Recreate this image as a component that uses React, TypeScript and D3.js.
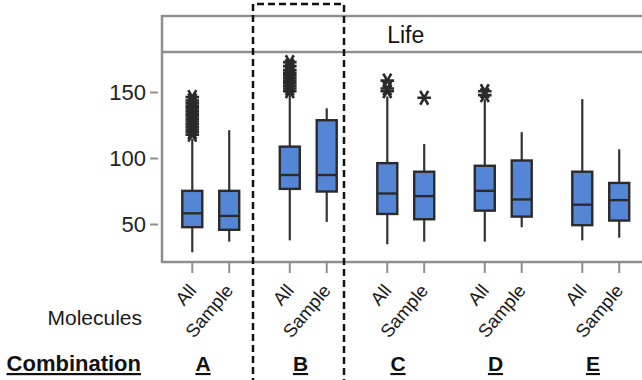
import React, { useEffect, useRef } from 'react';
import * as d3 from 'd3';

// categories
const combinations = ['A', 'B', 'C', 'D', 'E'];
const molecules = ['All', 'Sample'];
const yTicks = [50, 100, 150];

// box stats, order: A All, A Sample, B All, B Sample, ... E Sample
const whiskerLow = [29, 37, 38, 52, 35, 37, 37, 48, 38, 40];
const q1 = [48, 46, 77, 75, 58, 54, 60.5, 56, 49.5, 53];
const median = [58.5, 56.5, 87.5, 87.5, 73.5, 71.5, 75.5, 69, 65, 68.5];
const q3 = [75.5, 75.5, 109, 129, 96.5, 90, 94.5, 98.5, 90, 81.5];
const whiskerHigh = [115, 121.5, 149, 138, 147, 111, 145, 120, 145, 107];
const outliers = [
  [118, 120, 122, 124, 126, 128, 130, 132, 134, 136, 138, 140, 142, 144, 146.5],
  [],
  [151, 153, 155, 157, 159, 161, 163, 165, 167, 170, 173],
  [],
  [151, 153, 159],
  [146],
  [148, 151],
  [],
  [],
  [],
];

const FONT = '"Liberation Sans", Arial, sans-serif';

export default function App() {
  const svgRef = useRef<SVGSVGElement>(null);

  useEffect(() => {
    const w = 642;
    const h = 380;
    const svg = d3.select(svgRef.current).attr('width', w).attr('height', h);
    svg.selectAll('*').remove();

    const left = 162;
    const right = 649.5;
    const headerTop = 16;
    const plotTop = 52;
    const plotBottom = 262;

    // scales
    const xGroup = d3.scaleBand().domain(combinations).range([left, right]);
    const xInner = d3.scalePoint().domain(molecules).range([0, xGroup.bandwidth()]).padding(0.82);
    const y = d3.scaleLinear().domain([21.6, 180.7]).range([plotBottom, plotTop]);
    const boxW = 20;

    const rows = combinations.flatMap((c, gi) =>
      molecules.map((m, mi) => {
        const i = gi * molecules.length + mi;
        return {
          c,
          m,
          cx: (xGroup(c) as number) + (xInner(m) as number),
          lo: whiskerLow[i],
          q1: q1[i],
          med: median[i],
          q3: q3[i],
          hi: whiskerHigh[i],
          out: outliers[i],
        };
      })
    );

    const gray = '#8f8f8f';

    // panel frame
    svg.append('line').attr('x1', left).attr('x2', w).attr('y1', headerTop).attr('y2', headerTop)
      .attr('stroke', gray).attr('stroke-width', 2.5);
    svg.append('line').attr('x1', left).attr('x2', w).attr('y1', plotTop).attr('y2', plotTop)
      .attr('stroke', gray).attr('stroke-width', 2.5);
    svg.append('line').attr('x1', left).attr('x2', w).attr('y1', plotBottom).attr('y2', plotBottom)
      .attr('stroke', gray).attr('stroke-width', 2.5);
    svg.append('line').attr('x1', left).attr('x2', left).attr('y1', headerTop - 1).attr('y2', plotBottom + 1)
      .attr('stroke', gray).attr('stroke-width', 2.5);

    svg.append('text').attr('x', (left + right) / 2).attr('y', 43)
      .attr('text-anchor', 'middle').attr('font-family', FONT).attr('font-size', 23)
      .attr('fill', '#111').text('Life');

    // y axis ticks
    const yt = svg.append('g');
    yt.selectAll('line').data(yTicks).join('line')
      .attr('x1', 150).attr('x2', 158).attr('y1', (d) => y(d)).attr('y2', (d) => y(d))
      .attr('stroke', gray).attr('stroke-width', 2);
    yt.selectAll('text').data(yTicks).join('text')
      .attr('x', 146).attr('y', (d) => y(d)).attr('dy', '0.36em')
      .attr('text-anchor', 'end').attr('font-family', FONT).attr('font-size', 22)
      .attr('fill', '#222').text((d) => d);

    // x ticks + labels
    const xt = svg.append('g');
    xt.selectAll('line').data(rows).join('line')
      .attr('x1', (d) => d.cx).attr('x2', (d) => d.cx).attr('y1', plotBottom + 1).attr('y2', 273)
      .attr('stroke', gray).attr('stroke-width', 2);
    xt.selectAll('text').data(rows).join('text')
      .attr('transform', (d) => `translate(${d.cx + 5},${291}) rotate(-50)`)
      .attr('text-anchor', 'end').attr('font-family', FONT).attr('font-size', 18.5)
      .attr('fill', '#1a1a1a').text((d) => d.m);

    // boxes
    const g = svg.append('g');
    const box = g.selectAll('g').data(rows).join('g');
    box.append('line')
      .attr('x1', (d) => d.cx).attr('x2', (d) => d.cx)
      .attr('y1', (d) => y(d.hi)).attr('y2', (d) => y(d.q3))
      .attr('stroke', '#333').attr('stroke-width', 2.2);
    box.append('line')
      .attr('x1', (d) => d.cx).attr('x2', (d) => d.cx)
      .attr('y1', (d) => y(d.q1)).attr('y2', (d) => y(d.lo))
      .attr('stroke', '#333').attr('stroke-width', 2.2);
    box.append('rect')
      .attr('x', (d) => d.cx - boxW / 2).attr('width', boxW)
      .attr('y', (d) => y(d.q3)).attr('height', (d) => y(d.q1) - y(d.q3))
      .attr('fill', '#5586d6').attr('stroke', '#2b2b2b').attr('stroke-width', 2.4);
    box.append('line')
      .attr('x1', (d) => d.cx - boxW / 2).attr('x2', (d) => d.cx + boxW / 2)
      .attr('y1', (d) => y(d.med)).attr('y2', (d) => y(d.med))
      .attr('stroke', '#2b2b2b').attr('stroke-width', 2.4);

    // asterisk outliers
    const star = (r: number) => {
      const a = (Math.PI / 180) * 60;
      const dx = r * Math.cos(a);
      const dy = r * Math.sin(a);
      return `M${-r * 0.85},0L${r * 0.85},0M${-dx},${-dy}L${dx},${dy}M${dx},${-dy}L${-dx},${dy}`;
    };
    box.selectAll('path')
      .data((d) => d.out.map((v) => ({ cx: d.cx, v })))
      .join('path')
      .attr('transform', (d) => `translate(${d.cx},${y(d.v)})`)
      .attr('d', star(8))
      .attr('fill', 'none').attr('stroke', '#2a2a2a').attr('stroke-width', 2.6);

    // row labels
    svg.append('text').attr('x', 142).attr('y', 325).attr('text-anchor', 'end')
      .attr('font-family', FONT).attr('font-size', 21).attr('fill', '#1a1a1a').text('Molecules');
    svg.append('text').attr('x', 141).attr('y', 371).attr('text-anchor', 'end')
      .attr('font-family', FONT).attr('font-size', 22).attr('font-weight', 'bold')
      .attr('text-decoration', 'underline').attr('fill', '#111').text('Combination');
    svg.append('g').selectAll('text').data(combinations).join('text')
      .attr('x', (d) => (xGroup(d) as number) + 41).attr('y', 371).attr('text-anchor', 'middle')
      .attr('font-family', FONT).attr('font-size', 21).attr('font-weight', 'bold')
      .attr('text-decoration', 'underline').attr('fill', '#111').text((d) => d);

    // dashed highlight around B
    const bx = xGroup('B') as number;
    svg.append('path')
      .attr('d', `M${bx - 6.5},${h + 5}L${bx - 6.5},4L${bx + 84.5},4L${bx + 84.5},${h + 5}`)
      .attr('fill', 'none').attr('stroke', '#111').attr('stroke-width', 2.5)
      .attr('stroke-dasharray', '7,4');
  }, []);

  return <svg ref={svgRef} style={{ position: 'absolute', left: 0, top: 0, background: '#fff' }}></svg>;
}
